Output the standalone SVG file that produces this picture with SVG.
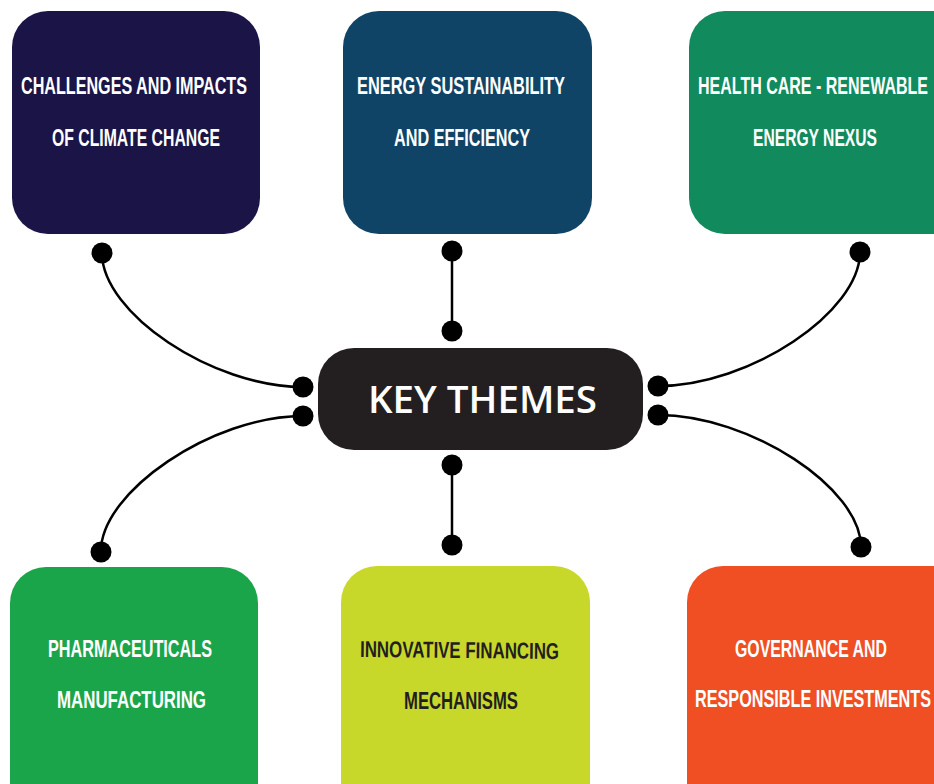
<svg xmlns="http://www.w3.org/2000/svg" width="934" height="784" viewBox="0 0 934 784">
<style>
.lbl{font-family:"Liberation Sans",Arial,sans-serif;font-weight:bold;font-size:23px;fill:#ffffff}
.dark{fill:#231f20}
.conn{fill:none;stroke:#000;stroke-width:2.5}
.dot{fill:#000}
.title{font-family:"Open Sans","Liberation Sans",sans-serif;font-weight:600;font-size:38px;fill:#ffffff}
</style>
<rect width="934" height="784" fill="#ffffff"/>
<g id="connectors">
<path class="conn" d="M102,253 C102,313 212,387 303,387"/>
<path class="conn" d="M860,252 C860,312 750,386 658,386"/>
<path class="conn" d="M101,551 C101,492 212,416 303,416"/>
<path class="conn" d="M861,547 C861,488 750,415 658,415"/>
<line class="conn" x1="452" y1="251" x2="452" y2="331"/>
<line class="conn" x1="452" y1="465" x2="452" y2="545"/>
<circle class="dot" cx="102" cy="253" r="10.5"/>
<circle class="dot" cx="303" cy="387" r="10.5"/>
<circle class="dot" cx="303" cy="416" r="10.5"/>
<circle class="dot" cx="860" cy="252" r="10.5"/>
<circle class="dot" cx="658" cy="386" r="10.5"/>
<circle class="dot" cx="658" cy="415" r="10.5"/>
<circle class="dot" cx="101" cy="552" r="10.5"/>
<circle class="dot" cx="861" cy="547" r="10.5"/>
<circle class="dot" cx="452" cy="251" r="10.5"/>
<circle class="dot" cx="452" cy="331" r="10.5"/>
<circle class="dot" cx="452" cy="465" r="10.5"/>
<circle class="dot" cx="452" cy="545" r="10.5"/>
</g>
<g id="center">
<rect x="318" y="348" width="325" height="102" rx="36" fill="#231f20"/>
<text class="title" x="368" y="413" textLength="229" lengthAdjust="spacingAndGlyphs">KEY THEMES</text>
</g>
<g id="n1">
<rect x="12" y="11" width="248" height="223" rx="36" fill="#1b1446"/>
<text class="lbl" x="21" y="94" textLength="226" lengthAdjust="spacingAndGlyphs">CHALLENGES AND IMPACTS</text>
<text class="lbl" x="52" y="146" textLength="168" lengthAdjust="spacingAndGlyphs">OF CLIMATE CHANGE</text>
</g>
<g id="n2">
<rect x="343" y="11" width="249" height="223" rx="36" fill="#0f4466"/>
<text class="lbl" x="357" y="94" textLength="208" lengthAdjust="spacingAndGlyphs">ENERGY SUSTAINABILITY</text>
<text class="lbl" x="394" y="146" textLength="136" lengthAdjust="spacingAndGlyphs">AND EFFICIENCY</text>
</g>
<g id="n3">
<rect x="689" y="11" width="280" height="223" rx="36" fill="#118a5d"/>
<text class="lbl" x="698" y="94" textLength="230" lengthAdjust="spacingAndGlyphs">HEALTH CARE - RENEWABLE</text>
<text class="lbl" x="753" y="146" textLength="124" lengthAdjust="spacingAndGlyphs">ENERGY NEXUS</text>
</g>
<g id="n4">
<rect x="10" y="567" width="248" height="260" rx="36" fill="#1ba54a"/>
<text class="lbl" x="48" y="657" textLength="164" lengthAdjust="spacingAndGlyphs">PHARMACEUTICALS</text>
<text class="lbl" x="57" y="708" textLength="149" lengthAdjust="spacingAndGlyphs">MANUFACTURING</text>
</g>
<g id="n5">
<rect x="341" y="566" width="249" height="260" rx="36" fill="#c8d82a"/>
<text class="lbl dark" x="360" y="658" textLength="199" lengthAdjust="spacingAndGlyphs" transform="rotate(0.6 460 658)">INNOVATIVE FINANCING</text>
<text class="lbl dark" x="404" y="709" textLength="114" lengthAdjust="spacingAndGlyphs">MECHANISMS</text>
</g>
<g id="n6">
<rect x="687" y="566" width="280" height="260" rx="36" fill="#f04e23"/>
<text class="lbl" x="735" y="657" textLength="152" lengthAdjust="spacingAndGlyphs">GOVERNANCE AND</text>
<text class="lbl" x="695" y="707" textLength="236" lengthAdjust="spacingAndGlyphs">RESPONSIBLE INVESTMENTS</text>
</g>
</svg>
